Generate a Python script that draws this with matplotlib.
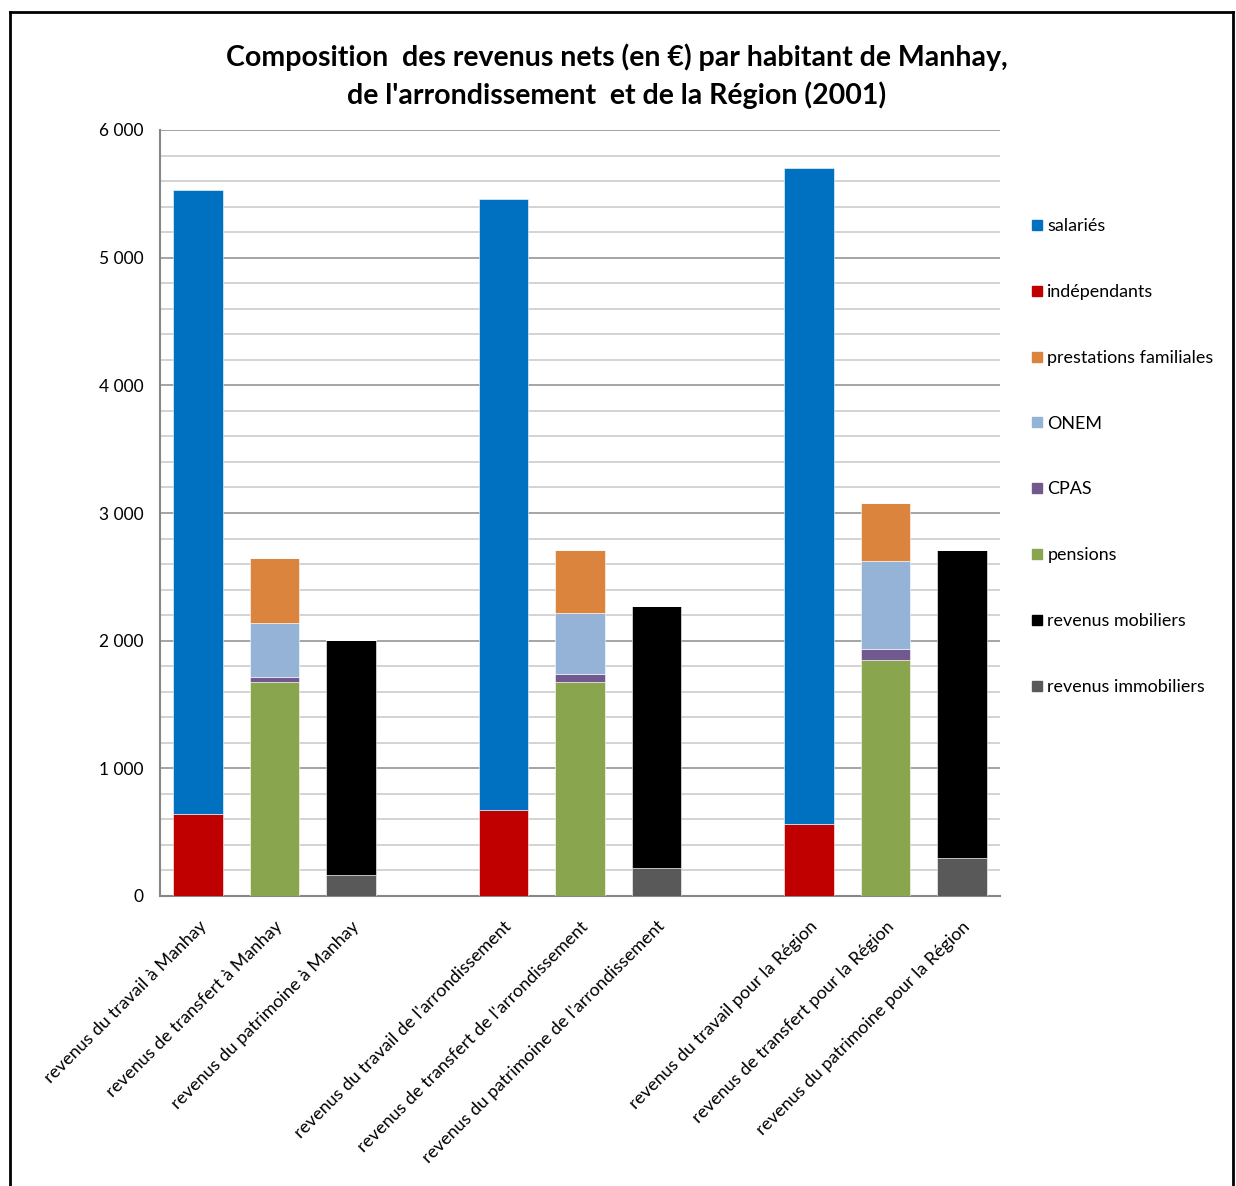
import matplotlib.pyplot as plt
from matplotlib.lines import Line2D
from matplotlib.ticker import MultipleLocator, FuncFormatter

plt.rcParams['font.family'] = ['Lato', 'DejaVu Sans']

# categories (blank slots separate the three groups)
categories = [
    "revenus du travail à Manhay",
    "revenus de transfert à Manhay",
    "revenus du patrimoine à Manhay",
    "",
    "revenus du travail de l'arrondissement",
    "revenus de transfert de l'arrondissement",
    "revenus du patrimoine de l'arrondissement",
    "",
    "revenus du travail pour la Région",
    "revenus de transfert pour la Région",
    "revenus du patrimoine pour la Région",
]

# series, in stacking order (bottom first)
immobiliers = [0, 0, 168, 0, 0, 0, 223, 0, 0, 0, 299]
mobiliers = [0, 0, 1838, 0, 0, 0, 2049, 0, 0, 0, 2414]
pensions = [0, 1677, 0, 0, 0, 1677, 0, 0, 0, 1847, 0]
cpas = [0, 42, 0, 0, 0, 65, 0, 0, 0, 89, 0]
onem = [0, 420, 0, 0, 0, 476, 0, 0, 0, 687, 0]
prestations = [0, 507, 0, 0, 0, 493, 0, 0, 0, 454, 0]
independants = [641, 0, 0, 0, 673, 0, 0, 0, 562, 0, 0]
salaries = [4889, 0, 0, 0, 4786, 0, 0, 0, 5140, 0, 0]

series = [
    ("revenus immobiliers", immobiliers, "#595959"),
    ("revenus mobiliers", mobiliers, "#000000"),
    ("pensions", pensions, "#89a54e"),
    ("CPAS", cpas, "#71588f"),
    ("ONEM", onem, "#95b3d7"),
    ("prestations familiales", prestations, "#db843d"),
    ("indépendants", independants, "#c00000"),
    ("salariés", salaries, "#0070c0"),
]

fig = plt.figure(figsize=(12.36, 11.86), dpi=100)
W, H = 1236, 1186
ax = fig.add_axes([160 / W, 1 - 896 / H, 840 / W, 766 / H])

x = range(len(categories))
bottom = [0] * len(categories)
handles = []
for name, vals, col in series:
    ax.bar(x, vals, width=0.65, bottom=bottom, color=col, edgecolor="white",
           linewidth=0.4, zorder=3)
    bottom = [b + v for b, v in zip(bottom, vals)]
    handles.append(Line2D([], [], marker="s", linestyle="none", markersize=7,
                          markerfacecolor=col, markeredgecolor=col, label=name))

ax.set_xlim(-0.5, len(categories) - 0.5)
ax.set_ylim(0, 6000)
ax.yaxis.set_major_locator(MultipleLocator(1000))
ax.yaxis.set_minor_locator(MultipleLocator(200))
ax.yaxis.set_major_formatter(FuncFormatter(lambda v, p: f"{int(v):,}".replace(",", " ")))
ax.grid(axis="y", which="major", color="#8c8c8c", linewidth=1.1, zorder=0)
ax.grid(axis="y", which="minor", color="#c8c8c8", linewidth=1.1, zorder=0)
ax.tick_params(axis="both", which="both", length=0, labelsize=12.5)
ax.tick_params(axis="y", pad=12)

ax.set_xticks(list(x))
ax.set_xticklabels(categories, rotation=45, ha="right", rotation_mode="anchor",
                   fontsize=12.9)
ax.tick_params(axis="x", pad=16)

for s in ["top", "right"]:
    ax.spines[s].set_visible(False)
for s in ["left", "bottom"]:
    ax.spines[s].set_color("#868686")
    ax.spines[s].set_linewidth(1.5)

fig.text(617 / W, 1 - 76 / H,
         "Composition  des revenus nets (en €) par habitant de Manhay,\nde l'arrondissement  et de la Région (2001)",
         ha="center", va="center", fontsize=20.5, fontweight="bold", linespacing=1.45)

handles = handles[::-1]
fig.legend(handles=handles, loc="upper left", bbox_to_anchor=(1024 / W, 1 - 211 / H),
           frameon=False, fontsize=12.9, labelspacing=2.78, handlelength=0.6,
           handletextpad=0.3, borderaxespad=0)

# outer frame
fig.add_artist(Line2D([10 / W, 10 / W], [0, 1 - 12 / H], color="black", linewidth=2,
                      transform=fig.transFigure))
fig.add_artist(Line2D([10 / W, 1233 / W], [1 - 12 / H, 1 - 12 / H], color="black",
                      linewidth=2, transform=fig.transFigure))
fig.add_artist(Line2D([1233 / W, 1233 / W], [0, 1 - 12 / H], color="black", linewidth=2,
                      transform=fig.transFigure))

fig.savefig("out.png", dpi=100)
